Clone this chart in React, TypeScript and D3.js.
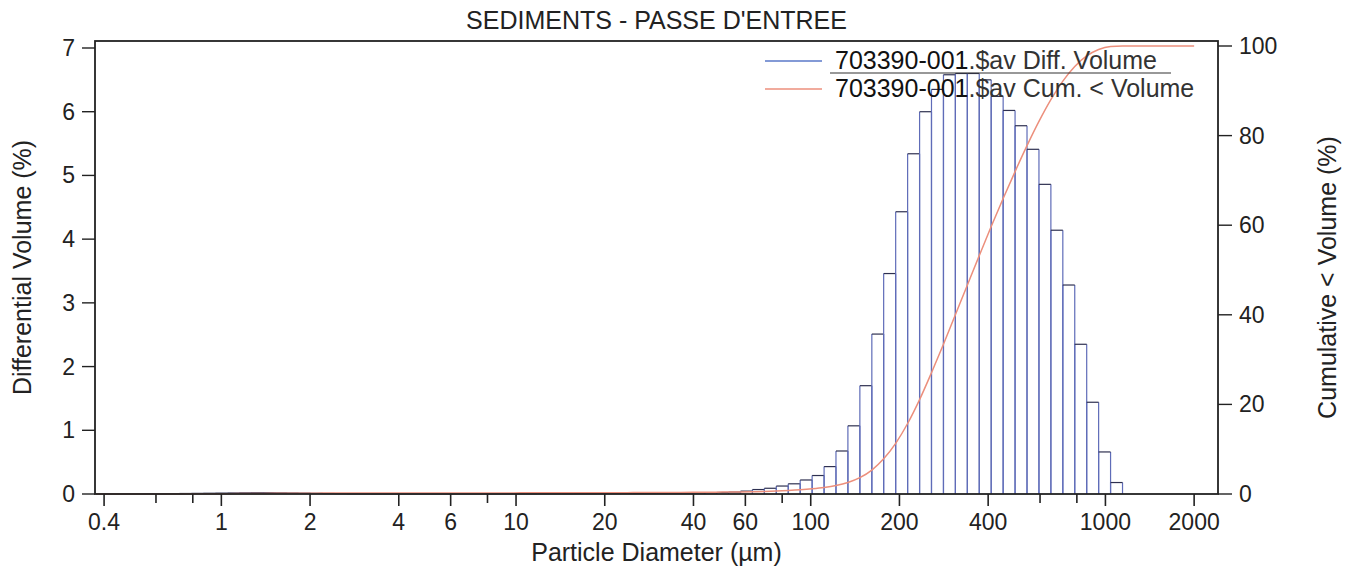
import { useEffect, useRef } from "react";
import * as d3 from "d3";

// channel edges (µm), 92 channels
const channelEdges = [
  0.375, 0.412, 0.452, 0.496, 0.545, 0.598, 0.656, 0.721, 0.791, 0.868,
  0.953, 1.047, 1.149, 1.261, 1.385, 1.52, 1.669, 1.832, 2.01, 2.207,
  2.423, 2.66, 2.92, 3.205, 3.519, 3.863, 4.24, 4.655, 5.11, 5.61,
  6.158, 6.76, 7.421, 8.147, 8.943, 9.818, 10.78, 11.83, 12.99, 14.26,
  15.65, 17.18, 18.86, 20.71, 22.73, 24.95, 27.39, 30.07, 33.01, 36.24,
  39.78, 43.67, 47.94, 52.62, 57.77, 63.41, 69.61, 76.42, 83.89, 92.09,
  101.1, 111.0, 121.8, 133.7, 146.8, 161.2, 176.8, 194.2, 213.2, 234.1,
  256.9, 282.1, 309.6, 339.9, 373.1, 409.6, 449.7, 493.6, 541.9, 594.9,
  653.0, 716.9, 786.9, 863.9, 948.3, 1041, 1143, 1255, 1377, 1512,
  1660, 1822, 2000,
];

// differential volume (%) per channel
const diffVolume = [
  0.002, 0.002, 0.003, 0.003, 0.004, 0.005, 0.006, 0.008, 0.01, 0.012,
  0.014, 0.016, 0.018, 0.019, 0.019, 0.018, 0.016, 0.014, 0.011, 0.008,
  0.006, 0.004, 0.003, 0.002, 0.002, 0.002, 0.002, 0.002, 0.002, 0.002,
  0.003, 0.003, 0.003, 0.003, 0.004, 0.004, 0.004, 0.005, 0.005, 0.005,
  0.006, 0.006, 0.007, 0.008, 0.009, 0.01, 0.011, 0.012, 0.013, 0.015,
  0.017, 0.02, 0.024, 0.03, 0.045, 0.07, 0.09, 0.125, 0.16, 0.22,
  0.29, 0.43, 0.675, 1.07, 1.7, 2.51, 3.46, 4.43, 5.34, 6.0,
  6.35, 6.58, 6.6, 6.6, 6.5, 6.24, 6.02, 5.78, 5.41, 4.86,
  4.14, 3.28, 2.35, 1.44, 0.66, 0.18, 0, 0, 0, 0,
  0, 0,
];

// cumulative < volume (%) at each channel edge
const cumVolume = [
  0, 0.002, 0.004, 0.007, 0.01, 0.014, 0.019, 0.025, 0.033, 0.043,
  0.055, 0.069, 0.085, 0.103, 0.122, 0.141, 0.159, 0.175, 0.189, 0.2,
  0.208, 0.214, 0.218, 0.221, 0.223, 0.225, 0.227, 0.229, 0.231, 0.233,
  0.235, 0.238, 0.241, 0.244, 0.247, 0.251, 0.255, 0.259, 0.264, 0.269,
  0.274, 0.28, 0.286, 0.293, 0.301, 0.31, 0.32, 0.331, 0.343, 0.356,
  0.371, 0.388, 0.408, 0.432, 0.462, 0.507, 0.577, 0.667, 0.792, 0.952,
  1.17, 1.46, 1.89, 2.57, 3.64, 5.34, 7.85, 11.31, 15.74, 21.08,
  27.08, 33.43, 40.01, 46.61, 53.21, 59.71, 65.95, 71.97, 77.75, 83.16,
  88.02, 92.16, 95.44, 97.79, 99.23, 99.89, 100, 100, 100, 100,
  100, 100, 100,
];

const xMajorTicks = [0.4, 1, 2, 4, 6, 10, 20, 40, 60, 100, 200, 400, 1000, 2000];
const xMinorTicks = [0.6, 0.8, 8, 80, 600, 800];
const yLeftTicks = [0, 1, 2, 3, 4, 5, 6, 7];
const yRightTicks = [0, 20, 40, 60, 80, 100];

const chartTitle = "SEDIMENTS - PASSE D'ENTREE";
const sampleId = "703390-001";
const legendNames = [".$av Diff. Volume", ".$av Cum. < Volume"];

const FONT = "'Liberation Sans', Arial, Helvetica, sans-serif";

export default function App() {
  const svgRef = useRef<SVGSVGElement>(null);

  useEffect(() => {
    if (!svgRef.current) return;
    const width = 1349;
    const height = 571;
    const left = 95;
    const right = 1218;
    const top = 41;
    const bottom = 494;

    const svg = d3.select(svgRef.current);
    svg.selectAll("*").remove();
    svg.attr("width", width).attr("height", height);

    const x = d3.scaleLog().domain([0.3726, 2410]).range([left, right]);
    const yL = d3.scaleLinear().domain([0, 7]).range([bottom, 48]);
    const yR = d3.scaleLinear().domain([0, 100]).range([bottom, 46]);

    svg.append("rect").attr("width", width).attr("height", height).attr("fill", "#fff");

    // histogram bars: blue sides, dark tops
    const bars = svg.append("g");
    diffVolume.forEach((v, i) => {
      if (v <= 0) return;
      const x0 = x(channelEdges[i]);
      const x1 = x(channelEdges[i + 1]);
      const yt = yL(v);
      bars
        .append("path")
        .attr("d", `M${x0},${bottom}V${yt}M${x1},${yt}V${bottom}`)
        .attr("fill", "none")
        .attr("stroke", "#5f6cb8")
        .attr("stroke-width", 1.2);
      bars
        .append("line")
        .attr("x1", x0)
        .attr("x2", x1)
        .attr("y1", yt)
        .attr("y2", yt)
        .attr("stroke", "#2e3050")
        .attr("stroke-width", 1.2);
    });

    // cumulative curve
    const line = d3
      .line<number>()
      .x((_, i) => x(channelEdges[i]))
      .y((d) => yR(d))
      .curve(d3.curveMonotoneX);
    svg
      .append("path")
      .datum(cumVolume)
      .attr("d", line)
      .attr("fill", "none")
      .attr("stroke", "#ec8f7c")
      .attr("stroke-width", 1.5);

    // frame
    svg
      .append("rect")
      .attr("x", left)
      .attr("y", top)
      .attr("width", right - left)
      .attr("height", bottom - top)
      .attr("fill", "none")
      .attr("stroke", "#222")
      .attr("stroke-width", 1.8);

    const txt = (sel: any) => sel.attr("font-family", FONT).attr("fill", "#222");

    // x axis
    const xa = svg.append("g");
    xMajorTicks.forEach((t) => {
      xa.append("line")
        .attr("x1", x(t)).attr("x2", x(t))
        .attr("y1", bottom).attr("y2", bottom + 12)
        .attr("stroke", "#222").attr("stroke-width", 1.6);
      xa.append("text")
        .call(txt)
        .attr("x", x(t))
        .attr("y", bottom + 36)
        .attr("text-anchor", "middle")
        .attr("font-size", 23)
        .text(String(t));
    });
    xMinorTicks.forEach((t) => {
      xa.append("line")
        .attr("x1", x(t)).attr("x2", x(t))
        .attr("y1", bottom).attr("y2", bottom + 9)
        .attr("stroke", "#222").attr("stroke-width", 1.6);
    });

    // left axis
    yLeftTicks.forEach((t) => {
      svg.append("line")
        .attr("x1", left - 13).attr("x2", left)
        .attr("y1", yL(t)).attr("y2", yL(t))
        .attr("stroke", "#222").attr("stroke-width", 1.4);
      svg.append("text")
        .call(txt)
        .attr("x", left - 20)
        .attr("y", yL(t) + 8)
        .attr("text-anchor", "end")
        .attr("font-size", 23)
        .text(String(t));
    });

    // right axis
    yRightTicks.forEach((t) => {
      svg.append("line")
        .attr("x1", right).attr("x2", right + 14)
        .attr("y1", yR(t)).attr("y2", yR(t))
        .attr("stroke", "#222").attr("stroke-width", 1.4);
      svg.append("text")
        .call(txt)
        .attr("x", right + 21)
        .attr("y", yR(t) + 8)
        .attr("text-anchor", "start")
        .attr("font-size", 23)
        .text(String(t));
    });

    // titles
    svg.append("text")
      .call(txt)
      .attr("x", (left + right) / 2)
      .attr("y", 29)
      .attr("text-anchor", "middle")
      .attr("font-size", 25)
      .text(chartTitle);
    svg.append("text")
      .call(txt)
      .attr("x", (left + right) / 2)
      .attr("y", 561)
      .attr("text-anchor", "middle")
      .attr("font-size", 25)
      .text("Particle Diameter (µm)");
    svg.append("text")
      .call(txt)
      .attr("transform", `translate(31,${(top + bottom) / 2}) rotate(-90)`)
      .attr("text-anchor", "middle")
      .attr("font-size", 25)
      .text("Differential Volume (%)");
    svg.append("text")
      .call(txt)
      .attr("transform", `translate(1336,${(top + bottom) / 2 + 10}) rotate(-90)`)
      .attr("text-anchor", "middle")
      .attr("font-size", 25)
      .text("Cumulative < Volume (%)");

    // legend
    const legendColors = ["#5a78c8", "#ec8f7c"];
    legendNames.forEach((name, i) => {
      const ly = 61 + i * 28;
      svg.append("line")
        .attr("x1", 765).attr("x2", 822)
        .attr("y1", ly).attr("y2", ly)
        .attr("stroke", legendColors[i]).attr("stroke-width", 1.5);
      const t = svg.append("text")
        .attr("font-family", FONT)
        .attr("font-size", 25)
        .attr("x", 835)
        .attr("y", ly + 8);
      t.append("tspan").attr("fill", "#111").text(sampleId);
      t.append("tspan").attr("fill", "#333").text(name);
    });
    svg.append("line")
      .attr("x1", 830).attr("x2", 1171)
      .attr("y1", 73).attr("y2", 73)
      .attr("stroke", "#333").attr("stroke-width", 1.2);
  }, []);

  return (
    <svg
      ref={svgRef}
      style={{ position: "absolute", left: 0, top: 0, display: "block" }}
    />
  );
}
